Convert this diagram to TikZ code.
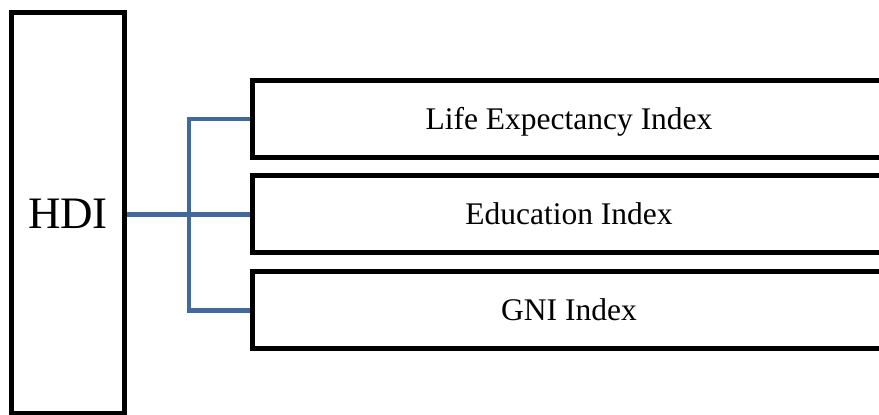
\documentclass[tikz,border=0pt]{standalone}
\usepackage{fontspec}
\setmainfont{Liberation Serif}
\usepackage{xcolor}
\usetikzlibrary{backgrounds}
\definecolor{linkblue}{RGB}{65,105,155}

\begin{document}
\begin{tikzpicture}[x=1pt, y=-1pt,
        box/.style={draw, rectangle, line width=5pt, inner sep=0pt, text depth=0pt},
        subbox/.style={box, minimum width=633pt, minimum height=77pt, text height=21pt, font=\fontsize{31.5}{38}\selectfont},
        link/.style={draw=linkblue, line width=4.5pt}]
        \useasboundingbox (0,0) rectangle (879,415);
        \clip (0,0) rectangle (879,415);

        \node[box, minimum width=113pt, minimum height=401pt, text height=30pt, font=\fontsize{45}{54}\selectfont] at (68, 213)   (hdi) {HDI};
        \node[subbox] at (569, 118.75)   (life) {Life Expectancy Index};
        \node[subbox] at (569, 214.25)   (edu) {Education Index};
        \node[subbox] at (569, 310.25)   (gni) {GNI Index};

        \coordinate (split) at (189, 215);
        \begin{scope}[on background layer]
            \draw [link] (hdi.east |- edu.west) -- (edu.west);
            \draw [link] (life.west) -| (split) |- (gni.west);
        \end{scope}
    \end{tikzpicture}
\end{document}
